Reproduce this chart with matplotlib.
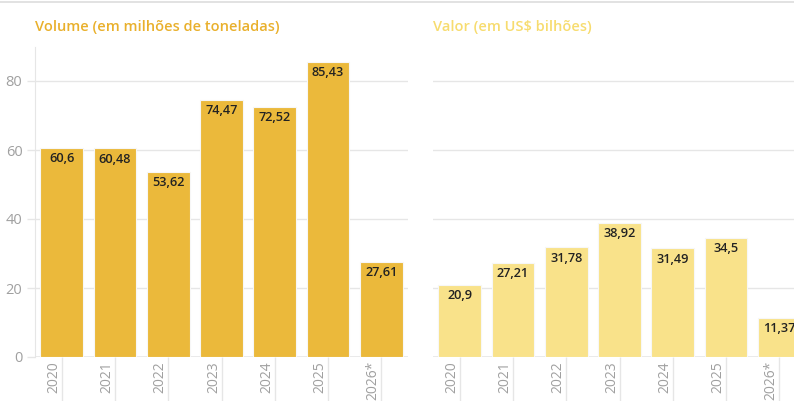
import matplotlib
matplotlib.use("Agg")
import matplotlib.pyplot as plt
from matplotlib import transforms
from matplotlib.lines import Line2D

years = ['2020', '2021', '2022', '2023', '2024', '2025', '2026*']
volume = [60.6, 60.48, 53.62, 74.47, 72.52, 85.43, 27.61]
valor = [20.9, 27.21, 31.78, 38.92, 31.49, 34.5, 11.37]
yticks = [0, 20, 40, 60, 80]

plt.rcParams['font.family'] = ['Open Sans', 'DejaVu Sans']

W, H = 794, 401
fig = plt.figure(figsize=(W / 100, H / 100), dpi=100)

GRID = '#e6e6e6'
TXT = '#a0a0a0'


def draw_panel(ax, values, color, title, title_color, show_yaxis):
    x = list(range(len(values)))
    ax.set_xlim(-0.5, len(values) - 0.5)
    ax.set_ylim(0, 90)
    for t in yticks[1:]:
        ax.axhline(t, color=GRID, lw=1, zorder=0)
    bars = ax.bar(x, values, width=0.8, color=color, edgecolor='#f7f7f7',
                  linewidth=0.8, zorder=2)
    for rect, v in zip(bars, values):
        ax.annotate(str(v).replace('.', ','),
                    (rect.get_x() + rect.get_width() / 2, v),
                    xytext=(0, -3), textcoords='offset points',
                    ha='center', va='top', fontsize=9.2,
                    fontweight='semibold', color='#222222', zorder=3,
                    annotation_clip=False)
    for s in ax.spines.values():
        s.set_visible(False)
    # baseline
    ax.axhline(0, color=GRID, lw=1.2, zorder=1)
    # long category ticks below the axis
    ax.set_xticks(x)
    ax.set_xticklabels([])
    ax.tick_params(axis='x', length=33, width=1, color=GRID)
    off = transforms.offset_copy(ax.get_xaxis_transform(), fig=fig,
                                 x=-8, y=-4, units='dots')
    for xi, lab in zip(x, years):
        ax.text(xi, 0, lab, transform=off, rotation=90, ha='center',
                va='top', fontsize=10, color=TXT)
    if show_yaxis:
        ax.spines['left'].set_visible(True)
        ax.spines['left'].set_color(GRID)
        ax.spines['left'].set_bounds(0, 90)
        ax.set_yticks(yticks)
        ax.tick_params(axis='y', length=6, width=1, color=GRID,
                       labelcolor=TXT, labelsize=10.5, pad=3)
    else:
        ax.set_yticks([])
    # title sits above the plot top
    tt = ax.transAxes + transforms.ScaledTranslation(0, 12 / 100, fig.dpi_scale_trans)
    ax.text(0, 1.0, title, transform=tt, fontsize=10.5,
            fontweight='semibold', color=title_color, ha='left', va='bottom')


bottom = (H - 357) / H
height = 310.5 / H
ax1 = fig.add_axes([35 / W, bottom, 373 / W, height])
ax2 = fig.add_axes([433 / W, bottom, 373 / W, height])

draw_panel(ax1, volume, '#ebb93b', 'Volume (em milhões de toneladas)',
           '#e9b02c', True)
draw_panel(ax2, valor, '#f9e28a', 'Valor (em US$ bilhões)', '#f7dc6f', False)

fig.add_artist(Line2D([0, 1], [1 - 2 / H, 1 - 2 / H], color='#dddddd', lw=1.2,
                      transform=fig.transFigure))

fig.savefig('out.png', dpi=100)
